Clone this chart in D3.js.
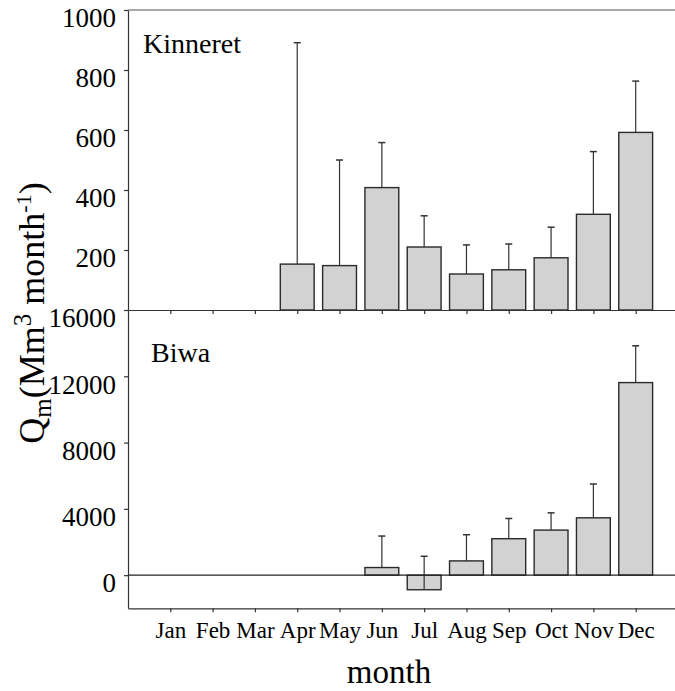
<!DOCTYPE html>
<html>
<head>
<meta charset="utf-8">
<script src="https://cdn.jsdelivr.net/npm/d3@7"></script>
<style>
  body { margin: 0; background: #fff; }
  text { font-family: "Liberation Serif", "DejaVu Serif", serif; fill: #000; }
</style>
</head>
<body>
<div id="chart"></div>
<script>
/* global d3 */

var months = ["Jan", "Feb", "Mar", "Apr", "May", "Jun", "Jul", "Aug", "Sep", "Oct", "Nov", "Dec"];

/* Kinneret monthly inflow, mean and upper deviation (Mm3/month) */
var kinneretMean = [0, 0, 0, 153, 148, 408, 210, 120, 134, 174, 319, 592];
var kinneretSd = [0, 0, 0, 738, 352, 150, 104, 97, 86, 102, 209, 171];

/* Biwa monthly inflow */
var biwaMean = [0, 0, 0, 0, 0, 460, -880, 860, 2200, 2720, 3460, 11620];
var biwaSd = [0, 0, 0, 0, 0, 1900, 2020, 1580, 1220, 1040, 2040, 2220];

var kinneretTicks = [200, 400, 600, 800, 1000];
var biwaTicks = [0, 4000, 8000, 12000, 16000];

var width = 675, height = 691;
var left = 128, right = 678;

var svg = d3.select("#chart").append("svg")
  .attr("width", width)
  .attr("height", height);

/* month positions: Jan at 1 ... Dec at 12 */
var x = d3.scaleLinear().domain([0, 13]).range([left, right]);
var barW = 0.8;

var yTop = d3.scaleLinear().domain([0, 1000]).range([310, 10]);
var yBot = d3.scaleLinear().domain([-2000, 16000]).range([608.3, 310]);

function panel(g, y, mean, sd) {
  var data = months.map(function(m, i) {
    return { i: i + 1, v: mean[i], sd: sd[i] };
  }).filter(function(d) { return d.v !== 0; });

  g.selectAll(".bar")
    .data(data)
    .enter().append("rect")
    .attr("class", "bar")
    .attr("x", function(d) { return x(d.i - barW / 2); })
    .attr("width", function(d) { return x(barW) - x(0); })
    .attr("y", function(d) { return y(Math.max(0, d.v)); })
    .attr("height", function(d) { return Math.abs(y(d.v) - y(0)); })
    .style("fill", "#d2d2d2")
    .style("stroke", "#2a2a2a")
    .style("stroke-width", 1.4);

  /* whiskers, from the bar end up to mean + sd */
  var err = g.selectAll(".err")
    .data(data)
    .enter().append("g")
    .attr("class", "err");

  err.append("line")
    .attr("x1", function(d) { return x(d.i); })
    .attr("x2", function(d) { return x(d.i); })
    .attr("y1", function(d) { return y(d.v); })
    .attr("y2", function(d) { return y(d.v + d.sd); })
    .style("stroke", "#333")
    .style("stroke-width", 1.2);

  err.append("line")
    .attr("x1", function(d) { return x(d.i) - 3.5; })
    .attr("x2", function(d) { return x(d.i) + 3.5; })
    .attr("y1", function(d) { return y(d.v + d.sd); })
    .attr("y2", function(d) { return y(d.v + d.sd); })
    .style("stroke", "#333")
    .style("stroke-width", 1.5);
}

var gTop = svg.append("g");
var gBot = svg.append("g");

panel(gTop, yTop, kinneretMean, kinneretSd);
panel(gBot, yBot, biwaMean, biwaSd);

/* zero line of the Biwa panel */
svg.append("line")
  .attr("x1", left).attr("x2", right)
  .attr("y1", yBot(0)).attr("y2", yBot(0))
  .style("stroke", "#222")
  .style("stroke-width", 1.2);

/* top frame line */
svg.append("line")
  .attr("x1", left).attr("x2", right)
  .attr("y1", yTop(1000)).attr("y2", yTop(1000))
  .style("stroke", "#555")
  .style("stroke-width", 1.2);

function styleAxis(a) {
  a.attr("font-family", null);
  a.selectAll("path, line").style("stroke", "#333").style("stroke-width", 1.2);
  a.selectAll("text").style("fill", "#000");
}

/* x axes */
var xTicks = d3.range(1, 13);

svg.append("g")
  .attr("transform", "translate(0," + yTop(0) + ")")
  .call(d3.axisBottom(x).tickValues(xTicks).tickSize(4).tickSizeOuter(0).tickFormat(""))
  .call(styleAxis);

svg.append("g")
  .attr("transform", "translate(0," + yBot(-2000) + ")")
  .call(d3.axisBottom(x).tickValues(xTicks).tickSize(4).tickSizeOuter(0)
    .tickPadding(9)
    .tickFormat(function(d) { return months[d - 1]; }))
  .call(styleAxis)
  .selectAll("text")
  .style("font-size", "23px");

/* y axes */
svg.append("g")
  .attr("transform", "translate(" + left + ",0)")
  .call(d3.axisLeft(yTop).tickValues(kinneretTicks).tickSize(4).tickSizeOuter(0)
    .tickPadding(8).tickFormat(d3.format("d")))
  .call(styleAxis)
  .selectAll("text")
  .attr("dy", "0.62em")
  .style("font-size", "27px");

svg.append("g")
  .attr("transform", "translate(" + left + ",0)")
  .call(d3.axisLeft(yBot).tickValues(biwaTicks).tickSize(4).tickSizeOuter(0)
    .tickPadding(8).tickFormat(d3.format("d")))
  .call(styleAxis)
  .selectAll("text")
  .attr("dy", "0.62em")
  .style("font-size", "27px");

/* panel names */
svg.append("text")
  .attr("x", 143).attr("y", 53)
  .style("font-size", "28px")
  .text("Kinneret");

svg.append("text")
  .attr("x", 151).attr("y", 362)
  .style("font-size", "28px")
  .text("Biwa");

/* axis titles */
svg.append("text")
  .attr("x", 389).attr("y", 683)
  .attr("text-anchor", "middle")
  .style("font-size", "33px")
  .text("month");

var yt = svg.append("text")
  .attr("transform", "translate(44,313) rotate(-90)")
  .attr("text-anchor", "middle")
  .style("font-size", "36px");
yt.append("tspan").text("Q");
yt.append("tspan").attr("dy", 7).style("font-size", "25px").text("m");
yt.append("tspan").attr("dy", -7).text("(Mm");
yt.append("tspan").attr("dy", -13).style("font-size", "25px").text("3");
yt.append("tspan").attr("dy", 13).text(" month");
yt.append("tspan").attr("dy", -13).style("font-size", "22px").text("-1");
yt.append("tspan").attr("dy", 13).text(")");
</script>
</body>
</html>
